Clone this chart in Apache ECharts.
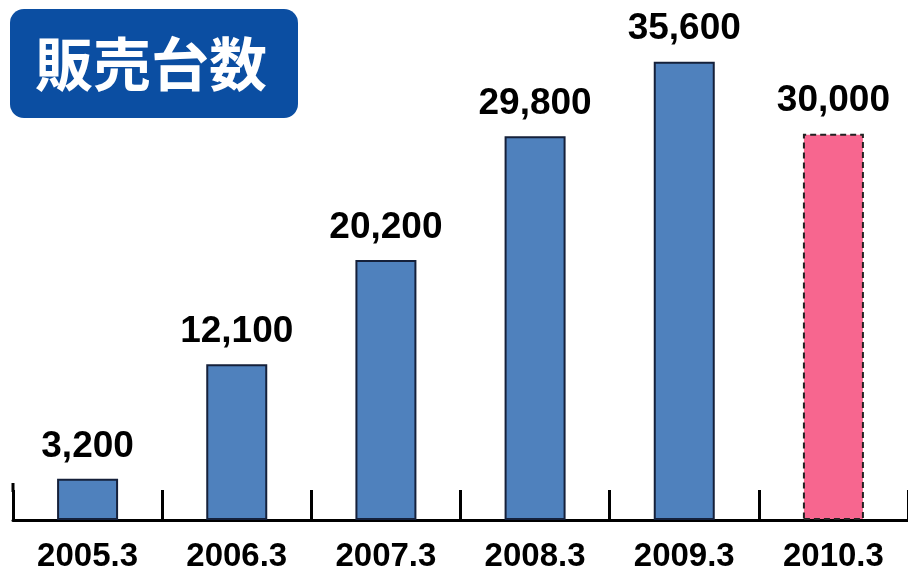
<!DOCTYPE html>
<html><head><meta charset="utf-8">
<script src="https://cdn.jsdelivr.net/npm/echarts@6/dist/echarts.min.js"></script>
<style>html,body{margin:0;padding:0;background:#fff}#c{width:908px;height:574px}</style>
</head><body><div id="c"></div>
<script>
const categories = ['2005.3','2006.3','2007.3','2008.3','2009.3','2010.3'];
const salesUnits = [3200, 12100, 20200, 29800, 35600, 30000];
const forecastIndex = 5;
const titleText = '販売台数';

const chart = echarts.init(document.getElementById('c'), null, {renderer:'canvas'});
const numFont = '"Liberation Sans", Arial, sans-serif';
chart.setOption({
  animation:false,
  backgroundColor:'#ffffff',
  grid:{left:13, top:5, bottom:54, right:-5, containLabel:false},
  xAxis:{
    type:'category', data:categories, boundaryGap:true,
    axisLine:{show:true, lineStyle:{color:'#000', width:3}},
    axisTick:{show:true, inside:true, length:30, lineStyle:{color:'#000', width:3}},
    axisLabel:{color:'#000', fontSize:33, fontWeight:'bold', fontFamily:numFont, margin:20}
  },
  yAxis:{type:'value', min:0, max:40000, show:false, splitLine:{show:false}},
  series:[{
    type:'bar', barWidth:61,
    data: salesUnits.map((v,i)=>({
      value:v,
      itemStyle: i===forecastIndex
        ? {color:'#f7668f', borderColor:'#222', borderWidth:2, borderType:[6,4]}
        : {color:'#4f81bd', borderColor:'#15203a', borderWidth:2}
    })),
    label:{show:true, position:'top', distance:14, color:'#000', fontSize:37, fontWeight:'bold', fontFamily:numFont,
      formatter:p=>p.value.toLocaleString('en-US')}
  }],
  graphic:[
    {type:'rect', left:10, top:9, shape:{width:288, height:109, r:14}, style:{fill:'#0b4ea2'}},
    {type:'text', x:151, y:64, style:{text:titleText, fill:'#fff', font:'bold 58px "Noto Sans CJK JP", sans-serif', textAlign:'center', textVerticalAlign:'middle'}},
    {type:'line', shape:{x1:13, y1:483, x2:13, y2:492}, style:{stroke:'#000', lineWidth:3}}
  ]
});
</script></body></html>
